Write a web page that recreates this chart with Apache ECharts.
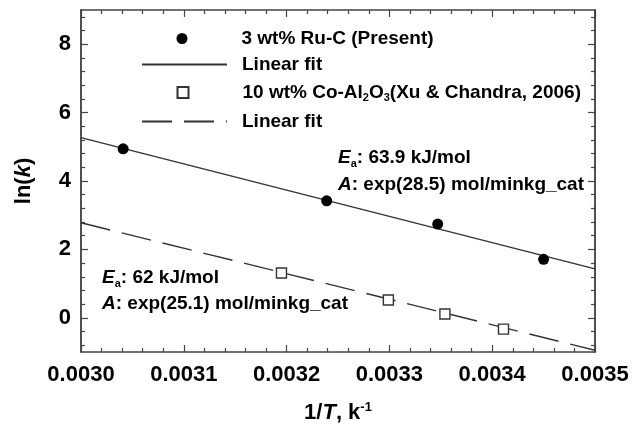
<!DOCTYPE html>
<html>
<head>
<meta charset="utf-8">
<script src="https://cdn.jsdelivr.net/npm/echarts@6/dist/echarts.min.js"></script>
<style>
  html, body { margin: 0; padding: 0; background: #fff; }
  #chart { width: 634px; height: 441px; }
</style>
</head>
<body>
<div id="chart"></div>
<script>
(function () {

    // 3 wt% Ru-C (present work)
    var ruX = [0.003041, 0.003239, 0.003347, 0.003450];
    var ruY = [4.94, 3.42, 2.74, 1.71];
    // 10 wt% Co-Al2O3 (Xu & Chandra, 2006)
    var coX = [0.003195, 0.003299, 0.003354, 0.003411];
    var coY = [1.31, 0.52, 0.11, -0.33];
    // linear fits, read at the plot edges
    var fitRuX = [0.0030, 0.0035];
    var fitRuY = [5.27, 1.43];
    var fitCoX = [0.0030, 0.0035];
    var fitCoY = [2.78, -0.95];

    var xTicks = ['0.0030', '0.0031', '0.0032', '0.0033', '0.0034', '0.0035'];
    var yTicks = [0, 2, 4, 6, 8];

    var names = ['3 wt% Ru-C (Present)', 'Linear fit', '10 wt% Co-Al2O3 (Xu & Chandra, 2006)', 'Linear fit '];

    var FONT = '"Liberation Sans", Arial, Helvetica, sans-serif';
    var AXIS = '#444';

    // minor ticks on y every 0.4 between the labelled ones
    var yMinor = [];
    for (var k = -2; k <= 22; k++) {
        if (k % 5 !== 0) {
            yMinor.push(Math.round(k * 4) / 10);
        }
    }

    function pairs(xs, ys) {
        var out = [];
        for (var i = 0; i < xs.length; i++) {
            out.push([xs[i], ys[i]]);
        }
        return out;
    }

    var rich = {
        n: { fontFamily: FONT, fontWeight: 'bold', fontSize: 19, lineHeight: 22, color: '#000' },
        i: { fontFamily: FONT, fontWeight: 'bold', fontStyle: 'italic', fontSize: 19, lineHeight: 22, color: '#000' },
        sub: { fontFamily: FONT, fontWeight: 'bold', fontSize: 11, lineHeight: 11, verticalAlign: 'bottom', color: '#000' },
        sp10: { width: 10 },
        sp49: { width: 49 }
    };

    function legendText(name) {
        var sp = (name === names[0] || name === names[2]) ? '{sp49|}' : '{sp10|}';
        if (name === names[2]) {
            return sp + '{n|10 wt% Co-Al}{sub|2}{n|O}{sub|3}{n|(Xu & Chandra, 2006)}';
        }
        return sp + '{n|' + name.trim() + '}';
    }

    function makeLegend(name, top, isLine) {
        var lg = {
            data: [name],
            left: isLine ? 136 : 171.5,
            top: top,
            orient: 'vertical',
            itemWidth: isLine ? 85 : 11,
            itemHeight: 11,
            selectedMode: false,
            formatter: legendText,
            textStyle: { rich: rich }
        };
        if (isLine) {
            lg.itemStyle = { color: 'rgba(0,0,0,0)', borderColor: 'rgba(0,0,0,0)', borderWidth: 0 };
        }
        return lg;
    }

    function axisCommon(showLabel) {
        return {
            axisLine: { show: true, onZero: false, lineStyle: { color: AXIS, width: 1.5 } },
            axisTick: { show: true, inside: true, length: 7, lineStyle: { color: AXIS, width: 1.2 } },
            minorTick: { show: false, splitNumber: 5, length: 4, lineStyle: { color: AXIS, width: 1.2 } },
            splitLine: { show: false },
            axisLabel: {
                show: showLabel,
                fontFamily: FONT,
                fontWeight: 'bold',
                fontSize: 22,
                color: '#000'
            }
        };
    }

    function xAxisAt(pos, showLabel) {
        var ax = axisCommon(showLabel);
        ax.type = 'value';
        ax.position = pos;
        ax.min = 0.0030;
        ax.max = 0.0035;
        ax.interval = 0.0001;
        ax.minorTick.show = true;
        return ax;
    }

    function yAxisAt(pos, showLabel, values, len) {
        var ax = axisCommon(showLabel);
        ax.type = 'value';
        ax.position = pos;
        ax.min = -1;
        ax.max = 9;
        ax.axisTick.customValues = values;
        ax.axisTick.length = len;
        ax.axisLabel.customValues = values;
        return ax;
    }

    var xBottom = xAxisAt('bottom', true);
    xBottom.axisLabel.margin = 12;
    xBottom.axisLabel.showMaxLabel = true;
    xBottom.axisLabel.formatter = function (v) {
        var i = Math.round((v - 0.0030) / 0.0001);
        return xTicks[i] || '';
    };
    xBottom.name = '{n|1/}{i|T}{n|, k}{sup|-1}';
    xBottom.nameLocation = 'middle';
    xBottom.nameGap = 49;
    xBottom.nameTextStyle = {
        rich: {
            n: { fontFamily: FONT, fontWeight: 'bold', fontSize: 22, lineHeight: 24, color: '#000' },
            i: { fontFamily: FONT, fontWeight: 'bold', fontStyle: 'italic', fontSize: 22, lineHeight: 24, color: '#000' },
            sup: { fontFamily: FONT, fontWeight: 'bold', fontSize: 13, lineHeight: 13, verticalAlign: 'top', color: '#000' }
        }
    };

    var xTop = xAxisAt('top', false);

    var yLeft = yAxisAt('left', true, yTicks, 7);
    yLeft.axisLabel.margin = 10;
    yLeft.name = '{n|ln(}{i|k}{n|)}';
    yLeft.nameLocation = 'middle';
    yLeft.nameGap = 46;
    yLeft.nameTextStyle = {
        rich: {
            n: { fontFamily: FONT, fontWeight: 'bold', fontSize: 22, color: '#000' },
            i: { fontFamily: FONT, fontWeight: 'bold', fontStyle: 'italic', fontSize: 22, color: '#000' }
        }
    };

    var yRight = yAxisAt('right', false, yTicks, 7);
    var yLeftMinor = yAxisAt('left', false, yMinor, 4);
    var yRightMinor = yAxisAt('right', false, yMinor, 4);

    var myChart = echarts.init(document.getElementById('chart'));

    var option = {
        animation: false,
        backgroundColor: '#fff',
        grid: { left: 81, right: 39, top: 10, bottom: 89 },
        legend: [
            makeLegend(names[0], 24, false),
            makeLegend(names[1], 50, true),
            makeLegend(names[2], 78, false),
            makeLegend(names[3], 107, true)
        ],
        xAxis: [xBottom, xTop],
        yAxis: [yLeft, yRight, yLeftMinor, yRightMinor],
        graphic: [
            {
                type: 'text', x: 338, y: 158,
                style: { text: '{i|E}{sub|a}{n|: 63.9 kJ/mol}', rich: rich, verticalAlign: 'middle' }
            },
            {
                type: 'text', x: 338, y: 185,
                style: { text: '{i|A}{n|: exp(28.5) mol/minkg_cat}', rich: rich, verticalAlign: 'middle' }
            },
            {
                type: 'text', x: 102, y: 278,
                style: { text: '{i|E}{sub|a}{n|: 62 kJ/mol}', rich: rich, verticalAlign: 'middle' }
            },
            {
                type: 'text', x: 102, y: 304,
                style: { text: '{i|A}{n|: exp(25.1) mol/minkg_cat}', rich: rich, verticalAlign: 'middle' }
            }
        ],
        series: [
            {
                name: names[1],
                type: 'line',
                symbol: 'none',
                itemStyle: { color: '#333' },
                lineStyle: { color: '#333', width: 1.4 },
                data: pairs(fitRuX, fitRuY),
                z: 2
            },
            {
                name: names[3],
                type: 'line',
                symbol: 'none',
                itemStyle: { color: '#333' },
                lineStyle: { color: '#333', width: 1.4, type: [30, 12] },
                data: pairs(fitCoX, fitCoY),
                z: 2
            },
            {
                name: names[0],
                type: 'scatter',
                symbol: 'circle',
                symbolSize: 11,
                itemStyle: { color: '#000', opacity: 1 },
                data: pairs(ruX, ruY),
                z: 3
            },
            {
                name: names[2],
                type: 'scatter',
                symbol: 'rect',
                symbolSize: 10,
                itemStyle: { color: '#fff', borderColor: '#333', borderWidth: 1.4, opacity: 1 },
                data: pairs(coX, coY),
                z: 3
            }
        ]
    };

    myChart.setOption(option);

}());
</script>
</body>
</html>
